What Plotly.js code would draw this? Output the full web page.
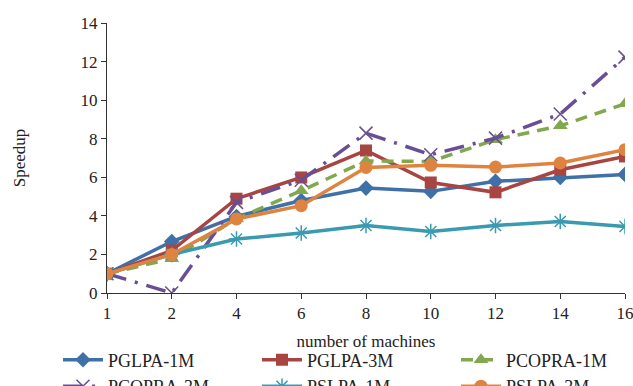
<!DOCTYPE html>
<html>
<head>
<meta charset="utf-8">
<script src="https://cdn.plot.ly/plotly-3.0.1.min.js"></script>
<style>html,body{margin:0;padding:0;background:#fff;}#chart{width:633px;height:386px;}</style>
</head>
<body>
<div id="chart"></div>
<script>
var machines = ["1","2","4","6","8","10","12","14","16"];
var pglpa1M  = [1.0, 2.67, 3.97, 4.80, 5.44, 5.27, 5.79, 5.99, 6.15];
var pglpa3M  = [1.0, 2.20, 4.89, 5.99, 7.39, 5.73, 5.22, 6.39, 7.08];
var pcopra1M = [1.0, 1.78, 3.85, 5.30, 6.85, 6.82, 7.95, 8.67, 9.81];
var pcopra3M = [1.0, 0.0, 4.70, 5.85, 8.29, 7.17, 8.03, 9.28, 12.23];
var pslpa1M  = [1.0, 2.00, 2.80, 3.11, 3.50, 3.19, 3.50, 3.71, 3.45];
var pslpa3M  = [1.0, 2.00, 3.84, 4.53, 6.51, 6.62, 6.53, 6.74, 7.43];

var names = ["PGLPA-1M","PGLPA-3M","PCOPRA-1M","PCOPRA-3M","PSLPA-1M","PSLPA-3M"];

function tr(name, y, color, dash, symbol, msize, open) {
  var m = {symbol: symbol, size: msize, color: color};
  if (open) { m.line = {color: color, width: 1.5}; }
  return {
    x: machines, y: y, name: name, type: "scatter", mode: "lines+markers",
    line: {color: color, width: 3.5, dash: dash},
    marker: m
  };
}

var data = [
  tr(names[0], pglpa1M, "#3F70A8", "solid", "diamond", 12, false),
  tr(names[1], pglpa3M, "#A84442", "solid", "square", 12, false),
  tr(names[2], pcopra1M, "#82A84E", "12px,8px", "triangle-up", 13, false),
  tr(names[3], pcopra3M, "#6A4E94", "20px,9px,3px,9px", "x-thin-open", 13, true),
  tr(names[4], pslpa1M, "#3A9AB0", "solid", "asterisk-open", 13, true),
  tr(names[5], pslpa3M, "#DE8440", "solid", "circle", 13, false)
];

var font = {family: "Liberation Serif, Times New Roman, serif", size: 17, color: "#222"};
var lfont = {family: "Liberation Serif, Times New Roman, serif", size: 18, color: "#222"};

var layout = {
  width: 633, height: 386,
  margin: {l: 107, r: 8, t: 23, b: 93, autoexpand: false},
  paper_bgcolor: "#fff", plot_bgcolor: "#fff",
  font: font,
  showlegend: true,
  xaxis: {
    type: "category", range: [0, 8],
    showline: true, linecolor: "#333", linewidth: 1,
    ticks: "outside", ticklen: 5, tickcolor: "#333",
    showgrid: false, zeroline: false, automargin: false,
    tickfont: font,
    title: {text: "number of machines", font: font, standoff: 12}
  },
  yaxis: {
    range: [0, 14], dtick: 2,
    showline: true, linecolor: "#333", linewidth: 1,
    ticks: "outside", ticklen: 5, tickcolor: "#333",
    showgrid: false, zeroline: false, automargin: false,
    tickfont: font,
    title: {text: "Speedup", font: font, standoff: 50}
  },
  legend: {
    orientation: "h", xref: "paper", yref: "paper",
    x: -0.0946, xanchor: "left", y: -0.18, yanchor: "top",
    entrywidth: 144, entrywidthmode: "pixels",
    font: lfont, tracegroupgap: 0, itemwidth: 40
  }
};

Plotly.newPlot("chart", data, layout, {staticPlot: true});
</script>
</body>
</html>
